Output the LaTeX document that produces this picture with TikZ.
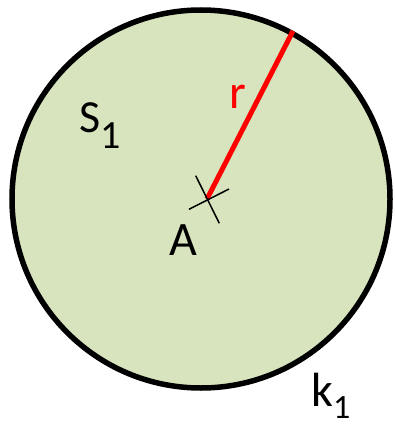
\documentclass[tikz,border=0pt]{standalone}
\usepackage{fontspec}
\setmainfont{Carlito}
\definecolor{disc}{HTML}{D7E4BD}
\definecolor{rad}{HTML}{FF0000}
\begin{document}
\begin{tikzpicture}[x=1pt,y=-1pt,
  lbl/.style={inner sep=0pt,anchor=base west},
  tick/.style={line width=1.5pt,black}]
\useasboundingbox (0,0) rectangle (394,425);
\node[circle,draw=black,fill=disc,line width=5.5pt,minimum size=378pt,inner sep=0pt] (k) at (201,199) {};
\coordinate (A) at (207,199);
\coordinate (R) at (293,31);
\draw[rad,line width=5pt] (A) -- (R);
\coordinate (t1a) at (195.7,175.7);
\coordinate (t1b) at (219.3,223.3);
\coordinate (t2a) at (189,209.3);
\coordinate (t2b) at (229,189);
\draw[tick] (t1a) -- (t1b);
\draw[tick] (t2a) -- (t2b);
\node[lbl,font=\fontsize{48}{48}\selectfont] (Alab) at (169,255) {A};
\node[lbl,font=\fontsize{48}{48}\selectfont,text=rad] (rlab) at (229,109) {r};
\node[lbl,font=\fontsize{46}{46}\selectfont] (Slab) at (79,132.3) {S\raisebox{-16pt}{\fontsize{40}{40}\selectfont 1}};
\node[lbl,font=\fontsize{48}{48}\selectfont] (klab) at (311,406) {k\raisebox{-12pt}{\fontsize{34}{34}\selectfont 1}};
\end{tikzpicture}
\end{document}
